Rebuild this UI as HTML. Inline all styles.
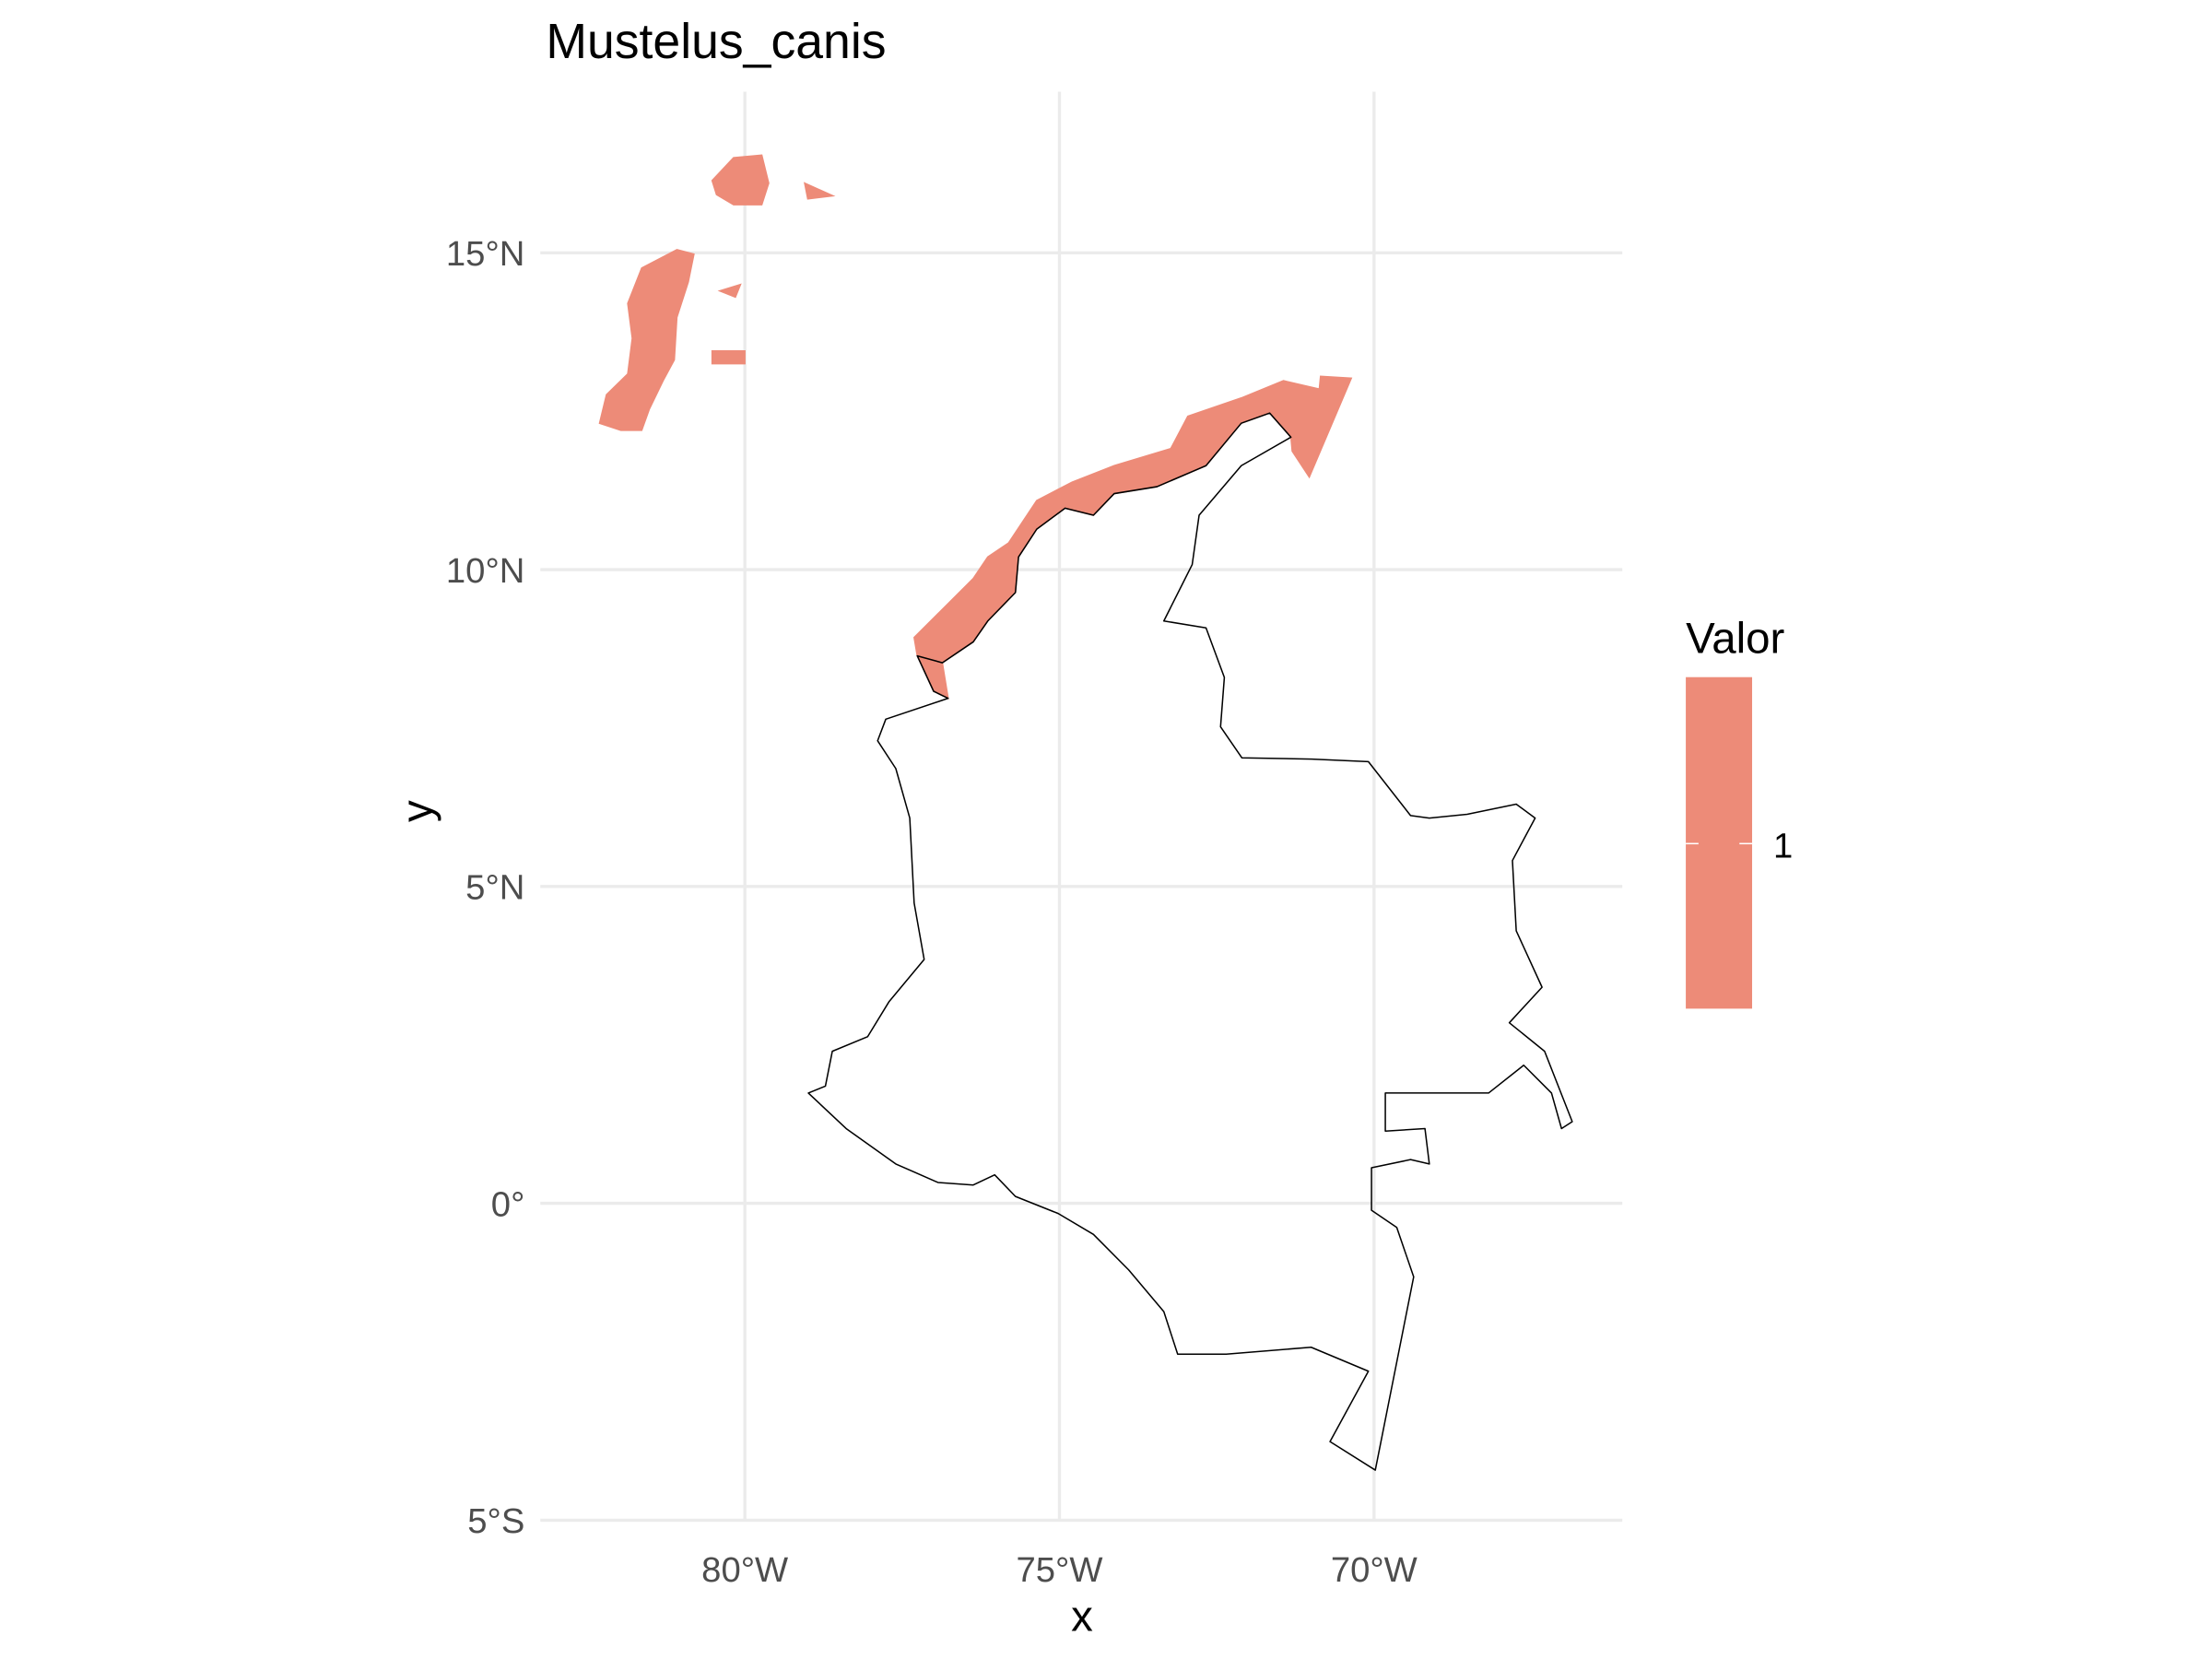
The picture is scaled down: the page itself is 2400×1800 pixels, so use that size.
<!DOCTYPE html>
<html><head><meta charset="utf-8">
<style>
html,body{margin:0;padding:0;background:#fff;}
svg{display:block;font-family:"Liberation Sans",Arial,sans-serif;}
</style></head>
<body>
<svg id="chart" width="2400" height="1800" viewBox="0 0 1568 1176" xmlns="http://www.w3.org/2000/svg">
  <rect width="1568" height="1176" fill="#fff"/>
  <g id="grid"></g>
  <g id="fills"></g>
  <g id="outline"></g>
  <g id="ticks"></g>
  <text x="387" y="41" font-size="35" fill="#000">Mustelus_canis</text>
  <text x="767" y="1156" font-size="31" text-anchor="middle" fill="#000">x</text>
  <text x="306" y="575" font-size="31" text-anchor="middle" fill="#000" transform="rotate(-90 306 575)">y</text>
  <g>
    <text x="1195" y="463" font-size="31" fill="#000">Valor</text>
    <rect x="1195" y="480" width="47" height="235" fill="#ED8B78"/>
    <line x1="1195" y1="598" x2="1204" y2="598" stroke="#fff" stroke-width="1"/>
    <line x1="1233" y1="598" x2="1242" y2="598" stroke="#fff" stroke-width="1"/>
    <text x="1257" y="608" font-size="25" fill="#000">1</text>
  </g>
</svg>
<script>
const lonTicks = [-80, -75, -70];
const lonLabels = ["80°W", "75°W", "70°W"];
const latTicks = [15, 10, 5, 0, -5];
const latLabels = ["15°N", "10°N", "5°N", "0°", "5°S"];

const colombiaLon = [-77.26,-77.0,-76.77,-77.76,-77.89,-77.60,-77.38,-77.31,-77.15,-77.71,-78.05,-78.61,-78.72,-78.99,-78.39,-77.60,-76.93,-76.37,-76.03,-75.70,-75.02,-74.46,-73.90,-73.34,-73.12,-72.35,-71.0,-70.09,-70.70,-69.98,-69.37,-69.64,-70.04,-70.04,-69.42,-69.12,-69.19,-69.82,-69.82,-68.18,-67.62,-67.18,-67.02,-66.85,-67.29,-67.85,-67.33,-67.74,-67.80,-67.44,-67.74,-68.52,-69.12,-69.42,-70.09,-70.99,-72.10,-72.44,-72.38,-72.67,-73.34,-72.89,-72.78,-72.11,-71.32,-71.66,-72.11,-72.67,-73.45,-74.13,-74.46,-74.91,-75.36,-75.65,-75.70,-76.14,-76.37,-76.86];
const colombiaLat = [8.64,8.08,7.97,7.64,7.30,6.86,6.08,4.74,3.85,3.18,2.63,2.40,1.85,1.74,1.18,0.62,0.33,0.29,0.45,0.11,-0.16,-0.49,-1.05,-1.71,-2.38,-2.38,-2.27,-2.65,-3.76,-4.21,-1.16,-0.38,-0.11,0.56,0.69,0.62,1.18,1.14,1.74,1.74,2.18,1.74,1.18,1.29,2.40,2.85,3.41,4.30,5.41,6.08,6.30,6.14,6.08,6.12,6.97,7.01,7.03,7.52,8.30,9.08,9.19,10.08,10.86,11.64,12.09,12.47,12.31,11.64,11.31,11.20,10.86,10.97,10.64,10.20,9.64,9.19,8.86,8.53];

const coastLon = [-77.31,-76.37,-76.14,-75.81,-75.36,-74.80,-74.13,-73.23,-72.96,-72.11,-71.44,-70.87,-70.85,-70.36,-71.03,-71.30,-71.32,-71.66,-72.11,-72.67,-73.45,-74.13,-74.46,-74.91,-75.36,-75.65,-75.70,-76.14,-76.37,-76.86,-76.77,-77.0,-77.26];
const coastLat = [8.93,9.86,10.20,10.42,11.09,11.38,11.64,11.91,12.42,12.71,12.98,12.85,13.05,13.02,11.46,11.87,12.09,12.47,12.31,11.64,11.31,11.20,10.86,10.97,10.64,10.20,9.64,9.19,8.86,8.53,7.97,8.08,8.64];

const sanAndresLon = [-81.08,-80.81,-80.90,-81.08,-81.12,-81.30,-81.52,-81.64,-81.97,-82.31,-82.20,-81.86,-81.79,-81.86,-81.64];
const sanAndresLat = [15.05,14.98,14.54,13.98,13.31,12.98,12.53,12.20,12.20,12.31,12.76,13.09,13.65,14.20,14.76];
const serranillaLon = [-80.52,-80.18,-79.73,-79.62,-79.73,-80.18,-80.45];
const serranillaLat = [16.14,16.50,16.54,16.10,15.76,15.76,15.92];
const islet1Lon = [-80.52,-80.0,-80.0,-80.52];
const islet1Lat = [13.45,13.45,13.25,13.25];
const islet2Lon = [-80.4,-80.07,-80.15];
const islet2Lat = [14.4,14.5,14.3];
const islet3Lon = [-79.05,-78.6,-79.0];
const islet3Lat = [16.1,15.9,15.85];

const X0 = 528, XS = 44.6;
const Y0 = 853, YS = 44.92;
function xScale(lon){ return X0 + (lon + 80) * XS; }
function yScale(lat){ return Y0 - lat * YS; }
const NS = "http://www.w3.org/2000/svg";
function mk(tag, attrs, parent){
  const el = document.createElementNS(NS, tag);
  for (const k in attrs) el.setAttribute(k, attrs[k]);
  parent.appendChild(el);
  return el;
}
function pts(lons, lats){ return lons.map((l,i)=>xScale(l).toFixed(1)+","+yScale(lats[i]).toFixed(1)).join(" "); }

const grid = document.getElementById("grid");
const ticks = document.getElementById("ticks");
lonTicks.forEach((v,i)=>{
  const ln = mk("line",{x1:xScale(v),x2:xScale(v),y1:65,y2:1078,stroke:"#ebebeb","stroke-width":2.2},grid);
  
  
  const t = mk("text",{x:xScale(v),y:1121,"font-size":25,"text-anchor":"middle",fill:"#4d4d4d"},ticks);
  t.textContent = lonLabels[i];
  
  
});
latTicks.forEach((v,i)=>{
  const ln = mk("line",{x1:383,x2:1150,y1:yScale(v),y2:yScale(v),stroke:"#ebebeb","stroke-width":2.2},grid);
  
  
  const t = mk("text",{x:372,y:yScale(v)+9,"font-size":25,"text-anchor":"end",fill:"#4d4d4d"},ticks);
  t.textContent = latLabels[i];
  
  
});

const fills = document.getElementById("fills");
[[coastLon,coastLat,'caribbean-coast-area'],[sanAndresLon,sanAndresLat,'san-andres-area'],[serranillaLon,serranillaLat,'serranilla-area'],[islet1Lon,islet1Lat,'islet-area'],[islet2Lon,islet2Lat,'islet-area'],[islet3Lon,islet3Lat,'islet-area']].forEach(p=>{
  const pg = mk("polygon",{points:pts(p[0],p[1]),fill:"#ED8B78",stroke:"#ED8B78","stroke-width":1},fills);
  
  
});

const outline = document.getElementById("outline");
const ol = mk("polygon",{points:pts(colombiaLon,colombiaLat),fill:"none",stroke:"#000","stroke-width":1,"stroke-linejoin":"round"},outline);


</script>
</body></html>
